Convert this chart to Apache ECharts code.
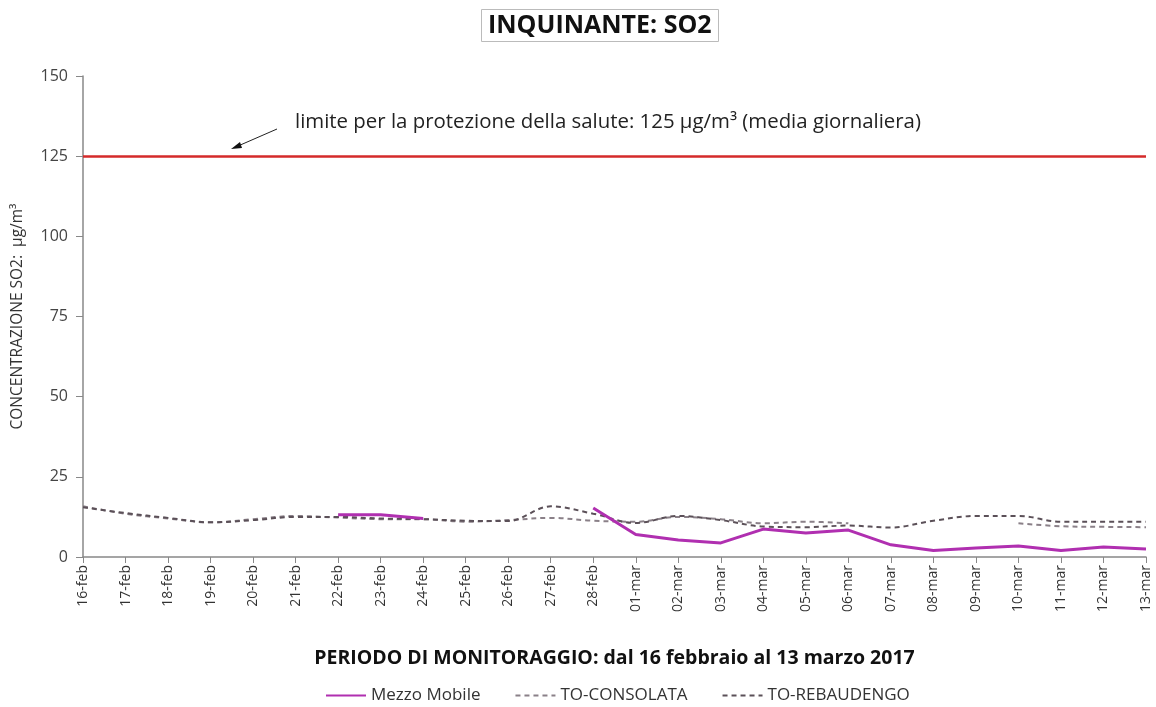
<!DOCTYPE html>
<html>
<head>
<meta charset="utf-8">
<script src="https://cdn.jsdelivr.net/npm/echarts@6/dist/echarts.min.js"></script>
<style>html,body{margin:0;padding:0;background:#fff;}#chart{width:1156px;height:707px;}</style>
</head>
<body>
<div id="chart"></div>
<script>
const categories = ['16-feb','17-feb','18-feb','19-feb','20-feb','21-feb','22-feb','23-feb','24-feb','25-feb','26-feb','27-feb','28-feb',
  '01-mar','02-mar','03-mar','04-mar','05-mar','06-mar','07-mar','08-mar','09-mar','10-mar','11-mar','12-mar','13-mar'];
const mezzoMobile = [null,null,null,null,null,null,13.2,13.2,12.0,null,null,null,15.3,
  7.0,5.3,4.4,8.7,7.5,8.4,3.8,2.0,2.8,3.4,2.0,3.1,2.5];
const toConsolata = [15.8,13.5,12.0,10.8,11.8,12.8,12.3,11.8,11.8,11.0,11.5,12.2,11.3,
  11.0,12.5,11.8,10.5,11.0,10.5,null,null,null,10.5,9.6,9.4,9.3];
const toRebaudengo = [15.5,13.7,12.2,10.8,11.5,12.5,12.5,12.0,11.8,11.3,11.2,15.8,13.5,
  10.6,12.8,11.5,9.5,9.3,9.8,9.2,11.3,12.8,12.8,11.0,11.0,11.0];
const limitValue = 125;
const yTicks = [0, 25, 50, 75, 100, 125, 150];

const FONT = '"Open Sans", sans-serif';
const chart = echarts.init(document.getElementById('chart'));
chart.setOption({
  animation: false,
  backgroundColor: '#fff',
  title: {
    text: 'INQUINANTE: SO2',
    left: 481,
    top: 9,
    padding: [4, 7, 4, 7],
    borderColor: '#bbbbbb',
    borderWidth: 1,
    textStyle: { fontFamily: FONT, fontSize: 25, fontWeight: 'bold', color: '#111' }
  },
  grid: { left: 83, right: 10, top: 76, bottom: 150, outerBoundsMode: 'none', containLabel: false },
  legend: {
    top: 682,
    left: 320,
    itemWidth: 40,
    itemHeight: 10,
    itemGap: 34,
    itemStyle: { opacity: 0 },
    textStyle: { fontFamily: FONT, fontSize: 17, color: '#333' },
    data: ['Mezzo Mobile', 'TO-CONSOLATA', 'TO-REBAUDENGO']
  },
  xAxis: {
    type: 'category',
    data: categories,
    boundaryGap: false,
    name: 'PERIODO DI MONITORAGGIO: dal 16 febbraio al 13 marzo 2017',
    nameLocation: 'middle',
    nameGap: 91,
    nameTextStyle: { fontFamily: FONT, fontSize: 19.5, fontWeight: 'bold', color: '#111' },
    axisLine: { lineStyle: { color: '#888', width: 1.5 } },
    axisTick: { alignWithLabel: true, length: 6, lineStyle: { color: '#888' } },
    axisLabel: { rotate: 90, fontFamily: FONT, fontSize: 14, color: '#333', margin: 8, interval: 0 },
    splitLine: { show: false }
  },
  yAxis: {
    type: 'value',
    min: yTicks[0],
    max: yTicks[yTicks.length - 1],
    interval: 25,
    name: 'CONCENTRAZIONE SO2:  µg/m³',
    nameLocation: 'middle',
    nameRotate: 90,
    nameGap: 57,
    nameTextStyle: { fontFamily: FONT, fontSize: 15.5, color: '#333' },
    axisLine: { show: true, lineStyle: { color: '#888', width: 1.5 } },
    axisTick: { show: true, length: 7, lineStyle: { color: '#888' } },
    axisLabel: { fontFamily: FONT, fontSize: 16, color: '#444', margin: 15 },
    splitLine: { show: false }
  },
  graphic: [
    {
      type: 'text', left: 295, top: 112,
      style: { text: 'limite per la protezione della salute: 125 µg/m³ (media giornaliera)',
        font: '20.4px ' + FONT, fill: '#222' }
    },
    { type: 'line', shape: { x1: 277, y1: 129, x2: 238, y2: 146 }, style: { stroke: '#222', lineWidth: 1 } },
    { type: 'polygon', shape: { points: [[231, 149], [240, 142], [242, 148]] }, style: { fill: '#111' } }
  ],
  series: [
    {
      name: 'Mezzo Mobile', type: 'line', data: mezzoMobile,
      symbol: 'none', connectNulls: false,
      lineStyle: { color: '#b02fb0', width: 3 },
      itemStyle: { color: '#b02fb0' },
      z: 5,
      markLine: {
        silent: true, symbol: 'none',
        label: { show: false },
        lineStyle: { color: '#d42a2a', width: 2.5, type: 'solid' },
        data: [{ yAxis: limitValue }]
      }
    },
    {
      name: 'TO-CONSOLATA', type: 'line', data: toConsolata,
      symbol: 'none', smooth: 0.35,
      lineStyle: { color: '#8a8088', width: 2, type: [5, 4] },
      itemStyle: { color: '#8a8088' }
    },
    {
      name: 'TO-REBAUDENGO', type: 'line', data: toRebaudengo,
      symbol: 'none', smooth: 0.35,
      lineStyle: { color: '#5b5058', width: 2, type: [5, 4] },
      itemStyle: { color: '#5b5058' }
    }
  ]
});
</script>
</body>
</html>
